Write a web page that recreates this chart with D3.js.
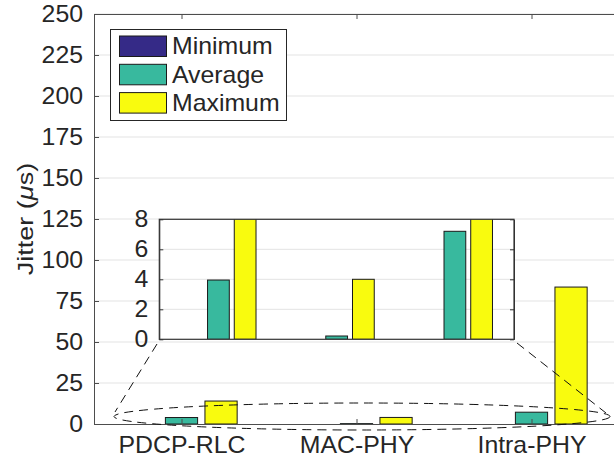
<!DOCTYPE html>
<html>
<head>
<meta charset="utf-8">
<script src="https://cdn.jsdelivr.net/npm/d3@7"></script>
<style>
  body { margin: 0; background: #fff; }
  text { font-family: "Liberation Sans", Arial, sans-serif; fill: #262626; }
</style>
</head>
<body>
<div class="canva"></div>
<script>
const categories = ['PDCP-RLC', 'MAC-PHY', 'Intra-PHY'];
const seriesNames = ['Minimum', 'Average', 'Maximum'];
const minimum = [0, 0, 0];
const average = [3.95, 0.22, 7.2];
const maximum = [14, 4.0, 83.5];
const yTicks = [0, 25, 50, 75, 100, 125, 150, 175, 200, 225, 250];
const insetTicks = [0, 2, 4, 6, 8];

const colors = ['#352a87', '#38b99e', '#f9fb0e'];
const series = [minimum, average, maximum];
const sx = 1.08; // text is a bit wider than normal in the picture

const svg = d3.select('.canva').append('svg')
  .attr('width', 614)
  .attr('height', 467)

// stretch text horizontally around its anchor
function stretch(sel) {
  sel.each(function() {
    const t = d3.select(this);
    const x = +t.attr('x') || 0;
    t.attr('x', x / sx).attr('transform', 'scale(' + sx + ',1)');
  });
}

// bars flattened: one item per (category, series)
const bars = [];
categories.forEach((c, i) => {
  series.forEach((s, j) => bars.push({cat: i + 1, j: j, v: s[i]}));
});
const offs = [-0.226, 0, 0.226];
const bw = 0.184;

//Main axes
const x = d3.scaleLinear().domain([0.5, 3.5]).range([94, 619]);
const y = d3.scaleLinear().domain([0, 250]).range([424, 14]);

svg.append('g').selectAll('line')
  .data(yTicks.slice(1))
  .enter().append('line')
  .attr('x1', 94).attr('x2', 619)
  .attr('y1', d => y(d)).attr('y2', d => y(d))
  .attr('stroke', '#e3e3e3')

svg.append('g').selectAll('rect')
  .data(bars.filter(d => d.v > 0))
  .enter().append('rect')
  .attr('x', d => x(d.cat + offs[d.j] - bw / 2))
  .attr('width', d => x(bw) - x(0))
  .attr('y', d => y(d.v))
  .attr('height', d => y(0) - y(d.v))
  .attr('fill', d => colors[d.j])
  .attr('stroke', '#1a1a1a')
  .attr('stroke-width', 1)

const yAxis = svg.append('g')
  .attr('transform', 'translate(94,0)')
  .call(d3.axisLeft(y).tickValues(yTicks).tickSize(-5).tickSizeOuter(0).tickPadding(11))
svg.append('g')
  .attr('transform', 'translate(619,0)')
  .call(d3.axisRight(y).tickValues(yTicks).tickSize(-5).tickSizeOuter(0).tickFormat(''))
svg.append('g')
  .attr('transform', 'translate(0,424)')
  .call(d3.axisBottom(x).tickValues([1, 2, 3]).tickSize(-5).tickSizeOuter(0)
    .tickPadding(10).tickFormat((d, i) => categories[i]))
svg.append('g')
  .attr('transform', 'translate(0,14)')
  .call(d3.axisTop(x).tickValues([1, 2, 3]).tickSize(-5).tickSizeOuter(0).tickFormat(''))

svg.selectAll('.domain, .tick line').attr('stroke', '#4d4d4d')
svg.selectAll('.tick text')
  .style('font-size', '23px')
  .attr('fill', '#262626')
  .style('fill', '#262626')
svg.selectAll('.tick text').call(stretch)
svg.selectAll('.tick text').filter(function() { return this.parentNode.parentNode.getAttribute('transform') == 'translate(0,424)'; })
  .attr('dy', null).attr('y', 29.5)

//Y label
const yl = svg.append('text')
  .attr('transform', 'translate(33,219) rotate(-90) scale(1,0.85)')
  .attr('text-anchor', 'middle')
  .style('font-size', '27px')
yl.append('tspan').text('Jitter (')
yl.append('tspan').style('font-style', 'italic').text('\u03bc')
yl.append('tspan').text('s)')

//Legend
const leg = svg.append('g')
leg.append('rect')
  .attr('x', 110.5).attr('y', 29.5).attr('width', 176).attr('height', 91)
  .attr('fill', '#fff').attr('stroke', '#262626').attr('stroke-width', 1)
seriesNames.forEach((n, i) => {
  leg.append('rect')
    .attr('x', 119.5).attr('y', 36 + i * 28.3).attr('width', 47).attr('height', 20.5)
    .attr('fill', colors[i]).attr('stroke', '#1a1a1a')
  leg.append('text')
    .attr('x', 172).attr('y', 54.5 + i * 28.3)
    .style('font-size', '23px')
    .text(n)
    .call(stretch)
})

//Inset
const xi = d3.scaleLinear().domain([0.5, 3.5]).range([159.3, 514]);
const yi = d3.scaleLinear().domain([0, 8]).range([339.3, 219.3]);

svg.append('defs').append('clipPath').attr('id', 'insetclip')
  .append('rect').attr('x', 159.3).attr('y', 219.3).attr('width', 514 - 159.3).attr('height', 120)

svg.append('rect')
  .attr('x', 159.3).attr('y', 219.3).attr('width', 514 - 159.3).attr('height', 120)
  .attr('fill', '#fff')

svg.append('g').selectAll('line')
  .data(insetTicks.slice(1, -1))
  .enter().append('line')
  .attr('x1', 159.3).attr('x2', 514)
  .attr('y1', d => yi(d)).attr('y2', d => yi(d))
  .attr('stroke', '#e3e3e3')

svg.append('g').attr('clip-path', 'url(#insetclip)')
  .selectAll('rect')
  .data(bars.filter(d => d.v > 0))
  .enter().append('rect')
  .attr('x', d => xi(d.cat + offs[d.j] - bw / 2))
  .attr('width', d => xi(bw) - xi(0))
  .attr('y', d => yi(Math.min(d.v, 8.2)))
  .attr('height', d => yi(0) - yi(Math.min(d.v, 8.2)))
  .attr('fill', d => colors[d.j])
  .attr('stroke', '#1a1a1a')
  .attr('stroke-width', 1)

const ia = svg.append('g').attr('class', 'inset')
ia.append('g').attr('transform', 'translate(159.3,0)')
  .call(d3.axisLeft(yi).tickValues(insetTicks).tickSize(-4).tickSizeOuter(0).tickPadding(11))
ia.append('g').attr('transform', 'translate(514,0)')
  .call(d3.axisRight(yi).tickValues(insetTicks).tickSize(-4).tickSizeOuter(0).tickFormat(''))
ia.append('rect')
  .attr('x', 159.3).attr('y', 219.3).attr('width', 514 - 159.3).attr('height', 120)
  .attr('fill', 'none').attr('stroke', '#333').attr('stroke-width', 1.2)
ia.selectAll('.domain, .tick line').attr('stroke', '#333')
ia.selectAll('.tick text')
  .style('font-size', '23px')
  .style('fill', '#262626')
  .call(stretch)

//Zoom marker: ellipse + connectors
const dash = '9,6';
svg.append('ellipse')
  .attr('cx', 362).attr('cy', 416.5).attr('rx', 248).attr('ry', 13.5)
  .attr('fill', 'none').attr('stroke', '#111').attr('stroke-width', 1)
  .attr('stroke-dasharray', dash)
svg.append('line')
  .attr('x1', 157).attr('y1', 344).attr('x2', 115).attr('y2', 412)
  .attr('stroke', '#111').attr('stroke-dasharray', dash)
svg.append('line')
  .attr('x1', 517).attr('y1', 343).attr('x2', 606).attr('y2', 413)
  .attr('stroke', '#111').attr('stroke-dasharray', dash)
</script>
</body>
</html>
